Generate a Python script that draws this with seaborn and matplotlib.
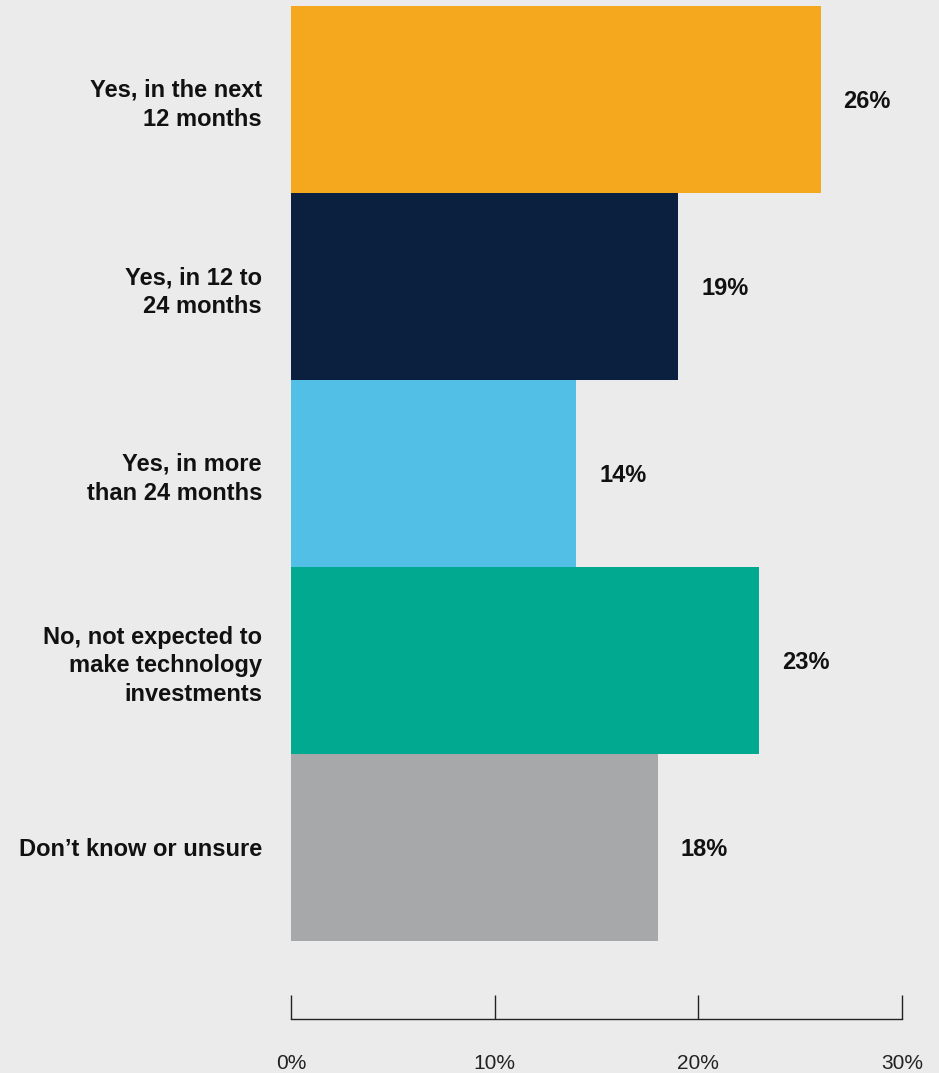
import matplotlib
matplotlib.use("Agg")
import matplotlib.pyplot as plt
import seaborn as sns
import pandas as pd

# Survey responses: expected timing of technology investments
categories = [
    "Yes, in the next\n12 months",
    "Yes, in 12 to\n24 months",
    "Yes, in more\nthan 24 months",
    "No, not expected to\nmake technology\ninvestments",
    "Don\u2019t know or unsure",
]
shares = [26, 19, 14, 23, 18]
bar_colors = ["#F5A81D", "#0B1F3F", "#52BFE7", "#00A98F", "#A7A8AA"]
x_ticks = [0, 10, 20, 30]
x_tick_labels = ["0%", "10%", "20%", "30%"]

bg = "#EBEBEB"
sns.set_theme(style="white")
plt.rcParams["font.family"] = ["Liberation Sans", "DejaVu Sans"]

W, H = 939, 1073
fig = plt.figure(figsize=(W / 100, H / 100), dpi=100, facecolor=bg)
ax = fig.add_axes([291 / W, 1 - 941 / H, (902 - 291) / W, (941 - 6) / H])
ax.set_facecolor(bg)

df = pd.DataFrame({"category": categories, "share": shares})
sns.barplot(
    data=df, x="share", y="category", hue="category",
    palette=bar_colors, orient="h", width=1.0, linewidth=0,
    saturation=1, legend=False, ax=ax,
)

ax.set_xlim(0, 30)
ax.set_ylim(len(categories) - 0.5, -0.5)
ax.set_xlabel("")
ax.set_ylabel("")

# Value labels to the right of each bar
for i, v in enumerate(shares):
    ax.annotate(f"{v}%", xy=(v, i), xytext=(16.6, -1.4), textcoords="offset points",
                ha="left", va="center", fontsize=17, fontweight="bold",
                color="#111111")

# Category labels
ax.tick_params(axis="y", left=False, length=0, pad=20.9)
for lbl in ax.get_yticklabels():
    lbl.set_fontsize(17)
    lbl.set_fontweight("bold")
    lbl.set_color("#111111")
    lbl.set_linespacing(1.32)

# Detached bottom axis with upward ticks
for side in ["top", "right", "left"]:
    ax.spines[side].set_visible(False)
ax.spines["bottom"].set_position(("outward", 78 * 0.72))
ax.spines["bottom"].set_color("#222222")
ax.spines["bottom"].set_linewidth(1.0)
ax.set_xticks(x_ticks)
ax.set_xticklabels(x_tick_labels)
ax.tick_params(axis="x", bottom=True, direction="in", length=24 * 0.72, width=1.0,
               color="#222222", pad=25.5, labelsize=15, labelcolor="#222222")

fig.savefig("out.png", dpi=100, facecolor=bg)
